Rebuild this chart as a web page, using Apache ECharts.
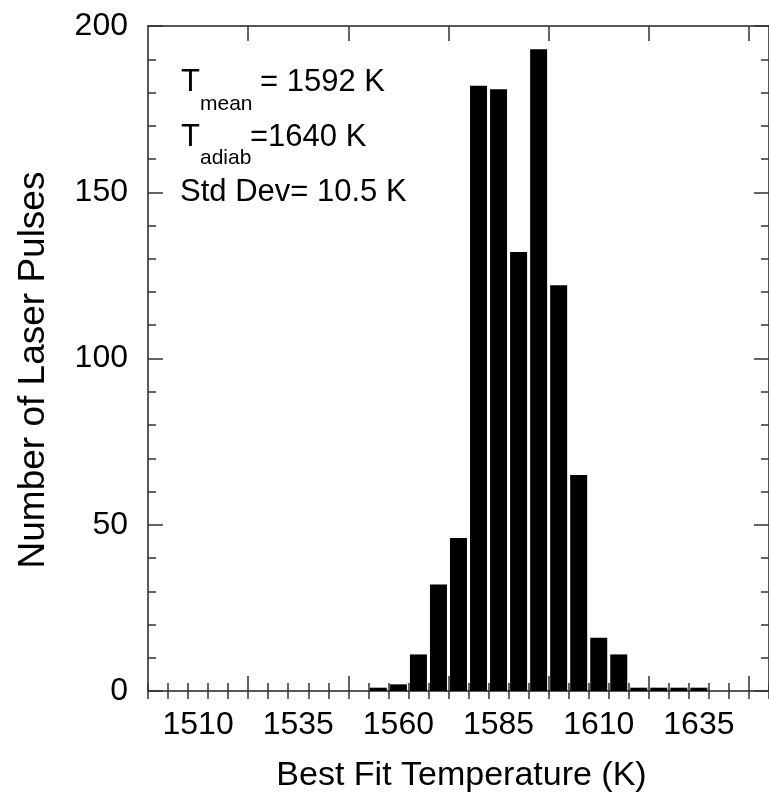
<!DOCTYPE html>
<html>
<head>
<meta charset="utf-8">
<script src="https://cdn.jsdelivr.net/npm/echarts@6/dist/echarts.min.js"></script>
<style>
html,body{margin:0;padding:0;background:#fff;}
#chart{width:769px;height:801px;}
</style>
</head>
<body>
<div id="chart"></div>
<script>
// Histogram bins (bin centers, K) and counts
const binCenters = [1555, 1560, 1565, 1570, 1575, 1580, 1585, 1590, 1595, 1600, 1605, 1610, 1615, 1620, 1625, 1630, 1635];
const counts     = [1, 2, 11, 32, 46, 182, 181, 132, 193, 122, 65, 16, 11, 1, 1, 1, 1];
// Axis labels / ticks
const xTickLabels = [1510, 1535, 1560, 1585, 1610, 1635];
const xMajorTicks = [1522.5, 1547.5, 1572.5, 1597.5, 1622.5, 1647.5];
const yTickLabels = [0, 50, 100, 150, 200];
const annotation = ['T', 'mean', '= 1592 K', 'T', 'adiab', '=1640 K', 'Std Dev= 10.5 K'];

const FONT = "'Liberation Sans', Arial, Helvetica, sans-serif";
const X_MIN = 1497.5, X_MAX = 1652.5;
const gridPos = {left: 148, top: 26, width: 622, height: 665};
const lineStyle = {color: '#222', width: 1.5};
const tickStyle = {color: '#333', width: 1.5};
const TICK_FS = 32;

const chart = echarts.init(document.getElementById('chart'), null, {renderer: 'canvas'});

function xAxisMajor(pos, grid, labels) {
  return {
    type: 'value', gridIndex: grid, position: pos, min: X_MIN, max: X_MAX,
    axisLine: {show: true, onZero: false, lineStyle: lineStyle},
    axisTick: {show: true, inside: true, length: 15, lineStyle: tickStyle, customValues: xMajorTicks},
    axisLabel: labels ? {show: true, customValues: xTickLabels, margin: 18.5, color: '#000',
      fontSize: TICK_FS, fontFamily: FONT, formatter: v => String(v)} : {show: false},
    splitLine: {show: false}
  };
}
function xAxisMinor(pos, grid) {
  return {
    type: 'value', gridIndex: grid, position: pos, min: X_MIN, max: X_MAX, interval: 5,
    axisLine: {show: false},
    axisTick: {show: true, inside: true, length: 8, lineStyle: tickStyle},
    axisLabel: {show: false},
    splitLine: {show: false}
  };
}
function yAxisDef(pos, grid, labels) {
  return {
    type: 'value', gridIndex: grid, position: pos, min: 0, max: 200, interval: 50,
    axisLine: {show: true, lineStyle: lineStyle},
    axisTick: {show: true, inside: true, length: 15, lineStyle: tickStyle},
    minorTick: {show: true, splitNumber: 5, length: 8, lineStyle: tickStyle},
    axisLabel: labels ? {show: true, customValues: yTickLabels, margin: 20, color: '#000',
      fontSize: TICK_FS, fontFamily: FONT, formatter: v => String(v)} : {show: false},
    splitLine: {show: false}, minorSplitLine: {show: false}
  };
}

function subText(str, x, baseline, size) {
  return {
    type: 'text', x: x, y: baseline - 0.3465 * size, silent: true,
    style: {text: str, fill: '#000', font: size + 'px ' + FONT,
      align: 'left', verticalAlign: 'middle', textAlign: 'left', textVerticalAlign: 'middle'}
  };
}

const option = {
  backgroundColor: '#fff',
  animation: false,
  grid: [Object.assign({}, gridPos), Object.assign({}, gridPos)],
  xAxis: [
    xAxisMajor('bottom', 0, true),
    xAxisMajor('top', 0, false),
    xAxisMinor('bottom', 1),
    xAxisMinor('top', 1)
  ],
  yAxis: [
    yAxisDef('left', 0, true),
    yAxisDef('right', 0, false),
    Object.assign(yAxisDef('left', 1, false), {axisLine: {show: false}, axisTick: {show: false}, minorTick: {show: false}}),
    Object.assign(yAxisDef('right', 1, false), {axisLine: {show: false}, axisTick: {show: false}, minorTick: {show: false}})
  ],
  series: [{
    type: 'bar', xAxisIndex: 0, yAxisIndex: 0,
    data: binCenters.map((c, i) => [c, counts[i]]),
    barWidth: 17,
    itemStyle: {color: '#000'},
    silent: true
  }],
  graphic: [
    subText(annotation[0], 181, 93.3, 31),
    subText(annotation[1], 200, 111.7, 21),
    subText(annotation[2], 260, 93.3, 31),
    subText(annotation[3], 181, 148.3, 31),
    subText(annotation[4], 200, 165, 21),
    subText(annotation[5], 250, 148.3, 31),
    subText(annotation[6], 180, 203.3, 31),
    {
      type: 'text', x: 461.5, y: 787.3 - 0.3465 * 34, silent: true,
      style: {text: 'Best Fit Temperature (K)', fill: '#000', font: '34px ' + FONT,
        align: 'center', verticalAlign: 'middle', textAlign: 'center', textVerticalAlign: 'middle'}
    },
    {
      type: 'text', x: 34, y: 370, rotation: Math.PI / 2, silent: true,
      style: {text: 'Number of Laser Pulses', fill: '#000', font: '37px ' + FONT,
        align: 'center', verticalAlign: 'middle', textAlign: 'center', textVerticalAlign: 'middle'}
    }
  ]
};
chart.setOption(option);
</script>
</body>
</html>
